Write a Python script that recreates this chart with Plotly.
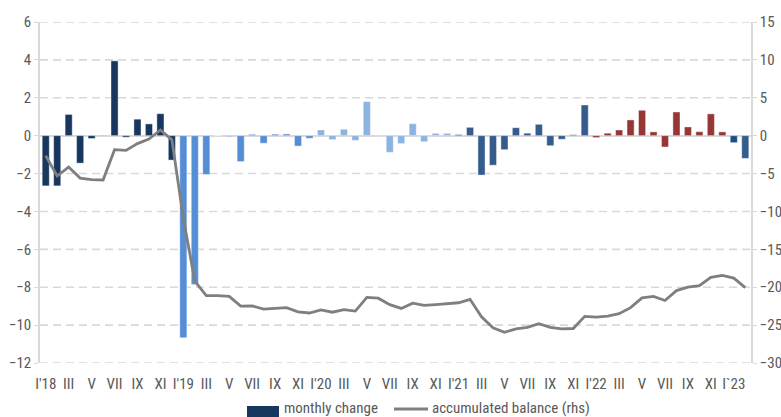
import plotly.graph_objects as go

# Months Jan 2018 .. Feb 2023
months = [f"{y}-{m:02d}" for y in range(2018, 2024) for m in range(1, 13)][:62]

# Monthly change (lhs)
monthly_change = [
    -2.65, -2.65, 1.12, -1.45, -0.15, 0.02, 3.95, -0.08, 0.87, 0.62, 1.16, -1.29,   # 2018
    -10.67, -7.86, -2.05, 0.0, -0.05, -1.37, 0.07, -0.40, 0.08, 0.09, -0.55, -0.14,  # 2019
    0.30, -0.21, 0.34, -0.25, 1.80, -0.03, -0.88, -0.42, 0.63, -0.32, 0.12, 0.12,    # 2020
    0.06, 0.44, -2.08, -1.56, -0.74, 0.42, 0.13, 0.60, -0.53, -0.19, 0.05, 1.62,     # 2021
    -0.10, 0.13, 0.30, 0.83, 1.34, 0.20, -0.60, 1.25, 0.46, 0.21, 1.15, 0.20,        # 2022
    -0.37, -1.20,                                                                   # 2023
]

# Accumulated balance (rhs)
accumulated = [
    -2.65, -5.3, -4.15, -5.6, -5.8, -5.85, -1.85, -1.95, -1.05, -0.45, 0.75, -0.55,
    -10.9, -19.2, -21.1, -21.1, -21.2, -22.5, -22.45, -22.9, -22.8, -22.7, -23.25, -23.4,
    -23.0, -23.3, -22.95, -23.15, -21.35, -21.45, -22.3, -22.8, -22.1, -22.4, -22.3, -22.2,
    -22.05, -21.6, -23.9, -25.35, -25.95, -25.5, -25.3, -24.8, -25.3, -25.5, -25.45, -23.85,
    -23.95, -23.8, -23.5, -22.7, -21.4, -21.2, -21.75, -20.45, -20.0, -19.8, -18.7, -18.45,
    -18.8, -20.05,
]

tick_labels = [
    "I'18", "III", "V", "VII", "IX", "XI",
    "I'19", "III", "V", "VII", "IX", "XI",
    "I'20", "III", "V", "VII", "IX", "XI",
    "I'21", "III", "V", "VII", "IX", "XI",
    "I'22", "III", "V", "VII", "IX", "XI",
    "I`23",
]

year_colors = {
    "2018": "#17375e",
    "2019": "#558ed5",
    "2020": "#8db3e2",
    "2021": "#355c8c",
    "2022": "#953735",
}
bar_colors = [year_colors.get(m[:4], "#355c8c") for m in months]
bar_colors[60] = "#1f4e8a"

FONT = "Liberation Sans Narrow, Roboto Condensed, Liberation Sans, Arial"
GRID = "#d9d9d9"
TXT = "#595959"

W, H = 781, 417
L, R, T, B = 40, 30, 22, 54
pw, ph = W - L - R, H - T - B


def px(xp):
    return (xp - L) / pw


def py(yp):
    return (H - B - yp) / ph


fig = go.Figure()

# dashed horizontal gridlines on the left scale
grid_levels = [6, 4, 2, -2, -4, -6, -8, -10, -12]
for g in grid_levels:
    fig.add_shape(type="line", xref="paper", yref="y", x0=0, x1=1, y0=g, y1=g,
                  line=dict(color=GRID, width=1.6, dash="8px,5px"), layer="below")

fig.add_trace(go.Bar(
    x=months, y=monthly_change, name="monthly change",
    marker=dict(color=bar_colors, line=dict(width=0.6, color="rgba(255,255,255,0.7)")),
    yaxis="y", showlegend=False,
))
fig.add_trace(go.Scatter(
    x=months, y=accumulated, name="accumulated balance (rhs)",
    mode="lines", line=dict(color="#7f7f7f", width=2.8),
    yaxis="y2", showlegend=False,
))

fig.update_layout(
    width=W, height=H,
    margin=dict(l=L, r=R, t=T, b=B, autoexpand=False),
    paper_bgcolor="white", plot_bgcolor="white",
    font=dict(family=FONT, size=15, color=TXT),
    bargap=0.38,
    xaxis=dict(
        type="category", categoryorder="array", categoryarray=months,
        range=[-0.5, 61.5], automargin=False,
        tickmode="array", tickvals=months[::2], ticktext=tick_labels,
        showgrid=False, zeroline=False, showline=False, ticks="",
        ticklabelstandoff=10, tickangle=0,
    ),
    yaxis=dict(
        range=[-12, 6], dtick=2, tick0=0, automargin=False,
        showgrid=False,
        zeroline=True, zerolinecolor=GRID, zerolinewidth=2,
        showline=True, linecolor=GRID, linewidth=1.5,
        ticks="outside", ticklen=4, tickcolor=GRID,
    ),
    yaxis2=dict(
        range=[-30, 15], dtick=5, tick0=0, automargin=False,
        overlaying="y", side="right", anchor="x",
        showgrid=False, zeroline=False,
        showline=True, linecolor=GRID, linewidth=1.5,
        ticks="outside", ticklen=4, tickcolor=GRID,
    ),
)

# legend drawn below the plot
fig.add_shape(type="rect", xref="paper", yref="paper",
              x0=px(247), x1=px(279), y0=py(417), y1=py(406),
              fillcolor="#17375e", line=dict(width=0))
fig.add_shape(type="line", xref="paper", yref="paper",
              x0=px(394), x1=px(428), y0=py(409), y1=py(409),
              line=dict(color="#7f7f7f", width=2.8))
fig.add_annotation(text="monthly change", xref="paper", yref="paper",
                   x=px(282), y=py(408), xanchor="left", yanchor="middle",
                   showarrow=False, font=dict(family=FONT, size=15, color=TXT))
fig.add_annotation(text="accumulated balance (rhs)", xref="paper", yref="paper",
                   x=px(430), y=py(408), xanchor="left", yanchor="middle",
                   showarrow=False, font=dict(family=FONT, size=15, color=TXT))

fig.write_html("out.html")
